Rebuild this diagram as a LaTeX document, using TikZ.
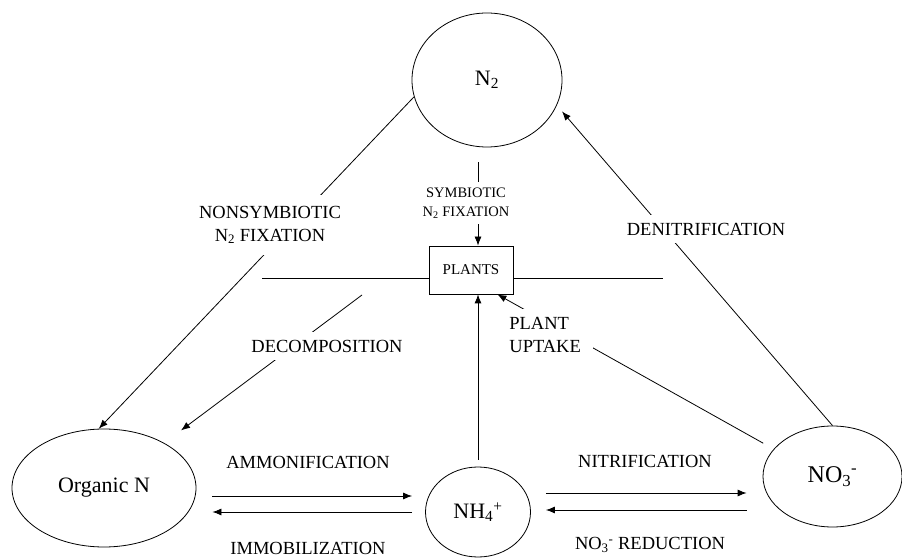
\documentclass[tikz,border=0pt]{standalone}
\usepackage{fontspec}
\setmainfont{Liberation Serif}
\usetikzlibrary{calc,shapes.geometric,arrows.meta}
\tikzset{
	pool/.style={draw,ellipse,inner sep=0pt,font=\fontsize{22}{24}\selectfont},
	lab/.style={fill=white,inner xsep=4pt,inner ysep=8pt,align=center,font=\fontsize{18.5}{23}\selectfont},
	flow/.style={-{Latex[length=9pt,width=7pt]}}
}
\begin{document}
\begin{tikzpicture}[x=1pt,y=1pt,line width=0.8pt]
				  \useasboundingbox (0,0) rectangle (902,557);
				  \node[pool,minimum width=150pt,minimum height=134pt] (N2) at (487,477) {N\textsubscript{2}};
				  \node[pool,minimum width=184pt,minimum height=118pt] (OrgN) at (104,69) {Organic N};
				  \node[pool,minimum width=105pt,minimum height=90pt] (NH4) at (478,45) {NH\textsubscript{4}\textsuperscript{+}};
				  \node[pool,minimum width=139pt,minimum height=101pt,font=\fontsize{24}{26}\selectfont] (NO3) at (832.5,80.5) {NO\textsubscript{3}\textsuperscript{-}};
				  \node[draw,minimum width=84pt,minimum height=48pt,font=\fontsize{15}{17}\selectfont] (plants) at (471,287) {PLANTS};
				  \coordinate (rimL) at (262,279);
				  \coordinate (rimR) at (663,279);
				  \coordinate (decay) at (362,262);
				  \draw (rimL) -- (rimL -| plants.west);
				  \draw (plants.east |- rimR) -- (rimR);
				  \draw[flow] (N2.193) -- (OrgN.95);
				  \draw[flow,shorten >=21pt] (decay) -- (OrgN);
				  \draw[flow,shorten <=15pt] (N2.south -| NH4.north) -- (NH4.north |- plants.north);
				  \draw[flow,shorten <=7pt] (NH4.north) -- (NH4.north |- plants.south);
				  \draw[flow,shorten <=12pt] (NO3.155) -- ([xshift=-16pt]plants.south east);
				  \draw[flow,shorten >=8pt] (NO3.north) -- (N2.340);
				  \draw[flow,shorten <=16pt,shorten >=13pt] ([yshift=-8pt]OrgN.east) -- ([yshift=16pt]NH4.west);
				  \draw[flow,shorten <=13pt,shorten >=16pt] (NH4.west) -- ([yshift=-24pt]OrgN.east);
				  \draw[flow,shorten <=15pt,shorten >=16pt] ([yshift=19pt]NH4.east) -- ([yshift=-16.5pt]NO3.west);
				  \draw[flow,shorten <=16pt,shorten >=15pt] ([yshift=-33.5pt]NO3.west) -- ([yshift=2pt]NH4.east);
				  \node[lab,inner ysep=11pt] (nonsym) at (270,332) {NONSYMBIOTIC\\N\textsubscript{2} FIXATION};
				  \node[lab,font=\fontsize{14.5}{19}\selectfont,inner ysep=6pt] (sym) at (466,354) {SYMBIOTIC\\N\textsubscript{2} FIXATION};
				  \node[lab] (denit) at (706,328) {DENITRIFICATION};
				  \node[lab] (decomp) at (327,211) {DECOMPOSITION};
				  \node[lab,align=left,anchor=west,text width=80pt] (uptake) at (505,222) {PLANT\\UPTAKE};
				  \node[lab] (ammon) at (308,95) {AMMONIFICATION};
				  \node[lab] (immob) at (308,9) {IMMOBILIZATION};
				  \node[lab] (nitr) at (645,96) {NITRIFICATION};
				  \node[lab] (redn) at (650,12) {NO\textsubscript{3}\textsuperscript{-} REDUCTION};
				  \end{tikzpicture}
\end{document}
